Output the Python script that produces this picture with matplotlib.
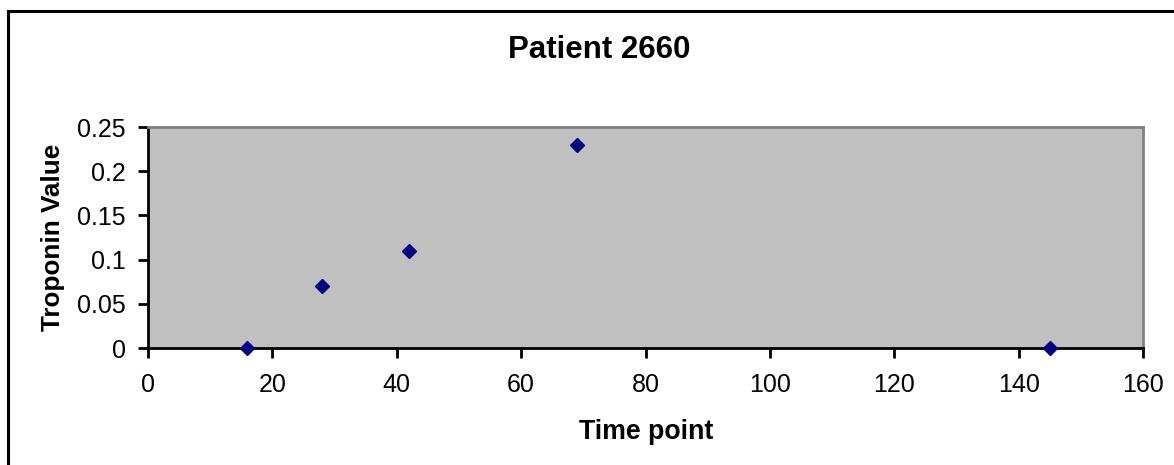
import matplotlib
matplotlib.use("Agg")
import matplotlib.pyplot as plt
from matplotlib.lines import Line2D

plt.rcParams['font.family'] = ['Liberation Sans', 'DejaVu Sans']

time_points = [16, 28, 42, 69, 145]
troponin = [0.0, 0.07, 0.11, 0.23, 0.0]
x_ticks = [0, 20, 40, 60, 80, 100, 120, 140, 160]
y_ticks = [0, 0.05, 0.1, 0.15, 0.2, 0.25]
y_tick_labels = ['0', '0.05', '0.1', '0.15', '0.2', '0.25']
title = 'Patient 2660'
x_label = 'Time point'
y_label = 'Troponin Value'

W, H = 1174, 465
fig = plt.figure(figsize=(W / 100, H / 100), dpi=100)
fig.patch.set_facecolor('white')

# chart border (extends beyond the image on right and bottom)
fig.add_artist(Line2D([8 / W, 8 / W], [0, 1 - 11 / H], color='black', lw=2.2,
                      transform=fig.transFigure))
fig.add_artist(Line2D([8 / W, 1], [1 - 11 / H, 1 - 11 / H], color='black', lw=2.2,
                      transform=fig.transFigure))

left, right, top, bottom = 148, 1143, 127, 348
ax = fig.add_axes([left / W, 1 - bottom / H, (right - left) / W, (bottom - top) / H])
ax.set_facecolor('#C0C0C0')

ax.plot(time_points, troponin, linestyle='none', marker='D', markersize=7,
        color='#000080', clip_on=False, zorder=5)

ax.set_xlim(0, 160)
ax.set_ylim(0, 0.25)
ax.set_xticks(x_ticks)
ax.set_xticklabels([str(v) for v in x_ticks])
ax.set_yticks(y_ticks)
ax.set_yticklabels(y_tick_labels)

for s in ['left', 'bottom']:
    ax.spines[s].set_color('black')
    ax.spines[s].set_linewidth(2)
for s in ['top', 'right']:
    ax.spines[s].set_color('#808080')
    ax.spines[s].set_linewidth(2)

ax.tick_params(axis='both', direction='out', length=7, width=2, color='black',
               labelsize=18, labelcolor='black')
ax.tick_params(axis='x', pad=11)
ax.tick_params(axis='y', pad=9)

fig.text(599 / W, 1 - 50 / H, title, ha='center', va='center',
         fontsize=22.5, fontweight='bold')
fig.text(646 / W, 1 - 432 / H, x_label, ha='center', va='center',
         fontsize=19.3, fontweight='bold')
fig.text(53 / W, 1 - 237 / H, y_label, ha='center', va='center',
         fontsize=18.8, fontweight='bold', rotation=90)

fig.savefig('out.png', dpi=100)
